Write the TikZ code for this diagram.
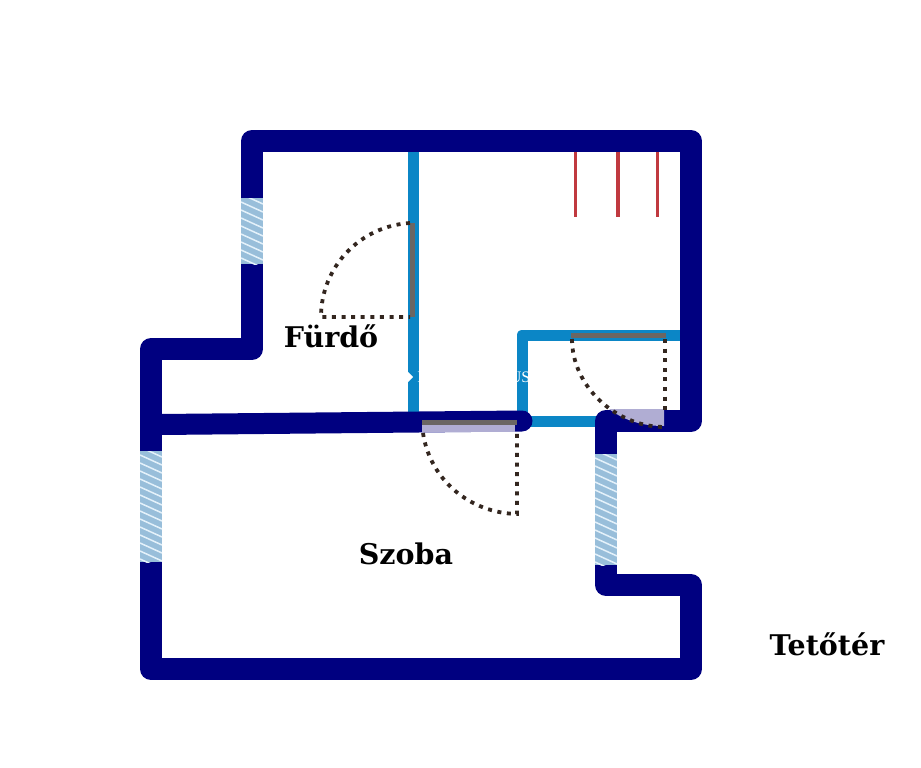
\documentclass[tikz,border=0pt]{standalone}
\usepackage{fontspec}
\setmainfont{DejaVu Serif}
\newfontfamily\wmfont{Liberation Serif}
\definecolor{wallnavy}{HTML}{000080}
\definecolor{wallblue}{HTML}{0B86C6}
\definecolor{leafgrey}{HTML}{6B6663}
\definecolor{lav}{HTML}{B0ADD3}
\definecolor{dotbrown}{HTML}{33261F}
\definecolor{radred}{HTML}{C0393F}
\definecolor{glass}{HTML}{98BEDA}
\definecolor{stripe}{HTML}{E4F1FA}
\tikzset{
  mainwall/.style={draw=wallnavy,line width=22pt,line join=round},
  partwall/.style={draw=wallblue,line width=11pt,line join=round},
  leaf/.style={draw=leafgrey,line width=5pt},
  swing/.style={draw=dotbrown,line width=3.8pt,dash pattern=on 4pt off 5.6pt},
  radiator/.style={draw=radred,line width=3.5pt},
  label/.style={font=\bfseries\fontsize{28.5}{32}\selectfont,text=black,inner sep=0pt},
  faint/.style={font=\wmfont\fontsize{16}{16}\selectfont,text=white,inner sep=0pt},
}
\newcommand{\glasspane}[4]{%
  \begin{scope}
    \clip (#1,#2) rectangle (#3,#4);
    \fill[glass] (#1,#2) rectangle (#3,#4);
    \foreach \k in {0,...,15}{
      \draw[stripe,line width=1.5pt] (#1,#2+8*\k-4) -- (#3,#2+8*\k+6);
    }
  \end{scope}}
\begin{document}
\begin{tikzpicture}[x=1pt,y=-1pt]
\useasboundingbox (0,0) rectangle (921,768);
\fill[white] (0,0) rectangle (921,768);
% partitions
\draw[partwall] (413,150) -- (413,414);
\draw[partwall] (680,335) -- (522,335) -- (522,421) -- (600,421);
% main walls
\draw[mainwall] (252,141) -- (691,141) -- (691,421) -- (606,421) -- (606,585) -- (691,585) -- (691,669) -- (151,669) -- (151,349) -- (252,349) -- cycle;
\draw[mainwall,line width=21pt,line cap=round] (160,424.5) -- (522,421);
% windows
\glasspane{241}{198}{263}{264}
\glasspane{140}{451}{162}{562}
\glasspane{595}{454}{617}{565}
% radiators
\draw[radiator] (575.5,152) -- (575.5,217);
\draw[radiator] (618,152) -- (618,217);
\draw[radiator] (657.5,152) -- (657.5,217);
% door 1
\draw[leaf] (412,223) -- (412,317);
\draw[swing] (410,223) .. controls (360,226) and (321,267) .. (321,317) -- (410,317);
% door 2
\fill[lav] (422,424) rectangle (515,432);
\draw[leaf] (422,422.5) -- (517,422.5);
\draw[swing] (423,433) .. controls (430,480) and (470,513) .. (517,514) -- (517,433);
% door 3
\fill[lav] (609,409) -- (664,409) -- (664,426) .. controls (643,426) and (625,421) .. (609,409) -- cycle;
\draw[leaf] (571,335) -- (666,335);
\draw[swing] (572,339) .. controls (572,386) and (615,426) .. (663,427);
\draw[swing] (665,339) -- (665,410);
% faint text on the partitions
\node[faint] (wm) at (520,377) {US};
\node[faint] (wmi) at (420,377) {I};
\fill[white] (407,371) -- (413,377) -- (407,383) -- cycle;
% labels
\node[label] (furdo) at (331,336.5) {Fürdő};
\node[label] (szoba) at (406,553.5) {Szoba};
\node[label] (tetoter) at (827,644.5) {Tetőtér};
\end{tikzpicture}
\end{document}
